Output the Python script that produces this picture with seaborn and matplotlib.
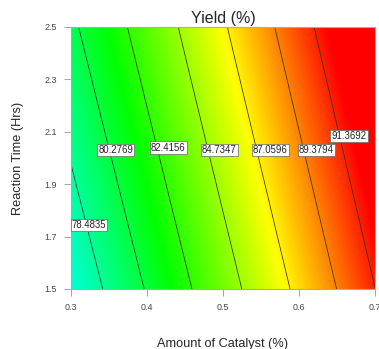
import numpy as np
import matplotlib
matplotlib.use("Agg")
import matplotlib.pyplot as plt
import seaborn as sns
from matplotlib.colors import LinearSegmentedColormap

# ---- data ----
catalyst_range = [0.3, 0.7]          # Amount of Catalyst (%)
time_range = [1.5, 2.5]              # Reaction Time (Hrs)
x_ticks = [0.3, 0.4, 0.5, 0.6, 0.7]
y_ticks = [1.5, 1.7, 1.9, 2.1, 2.3, 2.5]
x_tick_labels = ["0.3", "0.4", "0.5", "0.6", "0.7"]
y_tick_labels = ["1.5", "1.7", "1.9", "2.1", "2.3", "2.5"]
contour_levels = [78.4835, 80.2769, 82.4156, 84.7347, 87.0596, 89.3794, 91.3692]
# response-surface coefficients (coded around x=0.5, t=2.0)
coef_intercept = 85.35
coef_x = 36.0
coef_x2 = 10.0
coef_t = 3.0
coef_xt = 1.0
# colour scale stops (yield values)
color_values = [71.1, 76.3, 81.5, 86.8, 92.1]
color_names = ["#0000ff", "#00ffff", "#00ff00", "#ffff00", "#ff0000"]
# label anchor positions (layout)
label_pos = [(0.301, 1.745), (0.359, 2.03), (0.428, 2.04), (0.495, 2.03),
             (0.562, 2.03), (0.623, 2.03), (0.666, 2.085)]

sns.set_theme(style="white")
plt.rcParams['font.family'] = ['Liberation Sans', 'DejaVu Sans']

fig = plt.figure(figsize=(3.79, 3.49), dpi=100)
ax = fig.add_axes([71/379, 1-289/349, 304/379, 262/349])

xs = np.linspace(catalyst_range[0], catalyst_range[1], 300)
ts = np.linspace(time_range[0], time_range[1], 300)
XX, TT = np.meshgrid(xs, ts)
X = XX - 0.5
T = TT - 2.0
Y = coef_intercept + coef_x * X + coef_x2 * X**2 + coef_t * T + coef_xt * X * T

vmin, vmax = color_values[0], color_values[-1]
stops = [(v - vmin) / (vmax - vmin) for v in color_values]
cmap = LinearSegmentedColormap.from_list("de", list(zip(stops, color_names)))

ax.imshow(Y, origin="lower", extent=[*catalyst_range, *time_range], aspect="auto",
          cmap=cmap, vmin=vmin, vmax=vmax, interpolation="bilinear")
ax.contour(XX, TT, Y, levels=contour_levels, colors="#303030", linewidths=0.55)

for lev, (px, py) in zip(contour_levels, label_pos):
    ha = "left" if px <= 0.305 else "center"
    ax.text(px, py, f"{lev:.4f}", fontsize=6.9, ha=ha, va="center", color="#222222",
            bbox=dict(boxstyle="square,pad=0.12", fc="white", ec="#666666", lw=0.5))

ax.set_xlim(catalyst_range)
ax.set_ylim(time_range)
ax.set_xticks(x_ticks)
ax.set_xticklabels(x_tick_labels)
ax.set_yticks(y_ticks)
ax.set_yticklabels(y_tick_labels)
ax.tick_params(axis="both", which="both", direction="out", length=5, width=0.6,
               color="#999999", labelsize=6.4, labelcolor="#444444", pad=5,
               bottom=True, left=True)
for s in ax.spines.values():
    s.set_color("#aaaaaa")
    s.set_linewidth(0.8)

ax.set_title("Yield (%)", fontsize=11.5, pad=3)
ax.set_xlabel("Amount of Catalyst (%)", fontsize=9.2, labelpad=19)
ax.set_ylabel("Reaction Time (Hrs)", fontsize=9.2, labelpad=15)

fig.savefig("out.png", dpi=100)
